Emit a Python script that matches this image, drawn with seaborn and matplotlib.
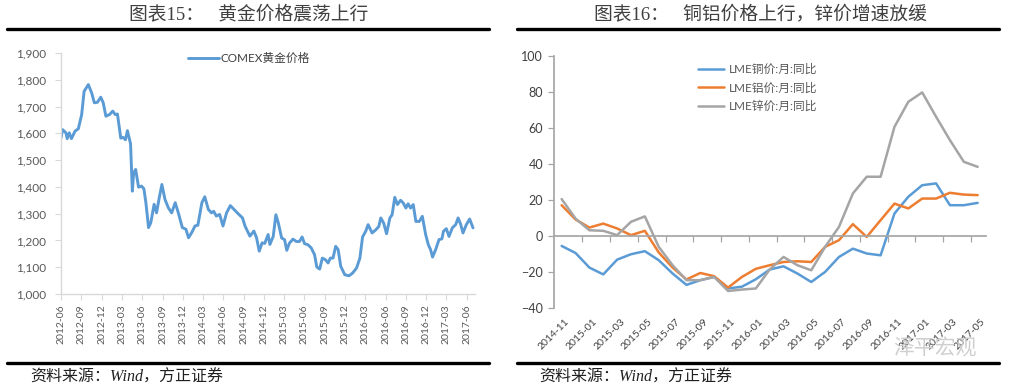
import numpy as np
import pandas as pd
import matplotlib
matplotlib.use('Agg')
import matplotlib.pyplot as plt
import matplotlib.dates as mdates
from matplotlib.lines import Line2D
from matplotlib.ticker import FuncFormatter
import seaborn as sns

sns.set_theme(style='white')
plt.rcParams['font.family'] = ['Lato', 'Noto Sans CJK SC', 'DejaVu Sans']

# ---------------- data: COMEX gold ----------------
gold_dates = [
    '2012-06-01', '2012-06-08', '2012-06-23', '2012-06-29', '2012-07-08', '2012-07-18', '2012-08-03',
    '2012-08-18', '2012-09-02', '2012-09-13', '2012-10-02', '2012-10-17', '2012-10-29', '2012-11-12',
    '2012-11-27', '2012-12-08', '2012-12-20', '2013-01-05', '2013-01-20', '2013-01-31', '2013-02-10',
    '2013-02-25', '2013-03-07', '2013-03-18', '2013-03-27', '2013-04-10', '2013-04-18', '2013-04-24',
    '2013-05-03', '2013-05-16', '2013-05-29', '2013-06-09', '2013-06-18', '2013-06-30', '2013-07-10',
    '2013-07-25', '2013-08-05', '2013-08-17', '2013-08-29', '2013-09-12', '2013-09-27', '2013-10-12',
    '2013-10-28', '2013-11-11', '2013-11-29', '2013-12-15', '2013-12-27', '2014-01-10', '2014-01-25',
    '2014-02-07', '2014-02-25', '2014-03-10', '2014-03-26', '2014-04-09', '2014-04-19', '2014-05-01',
    '2014-05-16', '2014-05-31', '2014-06-16', '2014-07-03', '2014-07-23', '2014-08-07', '2014-08-27',
    '2014-09-07', '2014-09-29', '2014-10-17', '2014-10-29', '2014-11-10', '2014-11-23', '2014-12-05',
    '2014-12-20', '2014-12-28', '2015-01-12', '2015-01-24', '2015-02-04', '2015-02-19', '2015-03-04',
    '2015-03-14', '2015-03-26', '2015-04-11', '2015-04-26', '2015-05-10', '2015-05-22', '2015-06-02',
    '2015-06-17', '2015-07-02', '2015-07-17', '2015-07-27', '2015-08-09', '2015-08-21', '2015-09-04',
    '2015-09-16', '2015-09-26', '2015-10-08', '2015-10-20', '2015-10-31', '2015-11-12', '2015-11-30',
    '2015-12-19', '2016-01-04', '2016-01-22', '2016-02-06', '2016-02-18', '2016-03-03', '2016-03-14',
    '2016-04-01', '2016-04-18', '2016-05-01', '2016-05-10', '2016-05-23', '2016-06-05', '2016-06-20',
    '2016-06-30', '2016-07-12', '2016-07-24', '2016-08-07', '2016-08-19', '2016-08-31', '2016-09-10',
    '2016-09-21', '2016-10-03', '2016-10-15', '2016-10-30', '2016-11-13', '2016-11-28', '2016-12-10',
    '2016-12-20', '2016-12-29', '2017-01-12', '2017-01-27', '2017-02-09', '2017-02-16', '2017-03-01',
    '2017-03-13', '2017-03-28', '2017-04-12', '2017-04-23', '2017-05-05', '2017-05-15', '2017-05-30',
    '2017-06-14', '2017-06-29']
gold_price = [
    1582, 1614, 1602, 1580, 1602, 1580, 1608,
    1617, 1670, 1757, 1782, 1751, 1714, 1716,
    1735, 1714, 1664, 1670, 1683, 1670, 1672,
    1582, 1585, 1576, 1610, 1561, 1384, 1452,
    1465, 1399, 1403, 1393, 1341, 1248, 1266,
    1335, 1303, 1359, 1409, 1353, 1322, 1303,
    1341, 1303, 1248, 1242, 1210, 1229, 1254,
    1257, 1341, 1363, 1316, 1303, 1309, 1291,
    1297, 1254, 1303, 1330, 1313, 1300, 1284,
    1254, 1216, 1235, 1210, 1160, 1191, 1189,
    1222, 1185, 1215, 1296, 1265, 1209, 1203,
    1163, 1190, 1205, 1196, 1196, 1213, 1188,
    1184, 1172, 1147, 1101, 1093, 1134, 1128,
    1116, 1134, 1134, 1178, 1166, 1103, 1072,
    1068, 1078, 1097, 1134, 1213, 1234, 1259,
    1228, 1240, 1252, 1284, 1265, 1225, 1284,
    1296, 1361, 1334, 1350, 1340, 1321, 1337,
    1321, 1334, 1271, 1271, 1290, 1222, 1184,
    1166, 1138, 1166, 1203, 1206, 1234, 1244,
    1215, 1247, 1259, 1284, 1259, 1228, 1259,
    1280, 1247]
gold_name = 'COMEX黄金价格'

# ---------------- data: LME metals YoY ----------------
months = ['2014-11', '2014-12', '2015-01', '2015-02', '2015-03', '2015-04', '2015-05', '2015-06',
          '2015-07', '2015-08', '2015-09', '2015-10', '2015-11', '2015-12', '2016-01', '2016-02',
          '2016-03', '2016-04', '2016-05', '2016-06', '2016-07', '2016-08', '2016-09', '2016-10',
          '2016-11', '2016-12', '2017-01', '2017-02', '2017-03', '2017-04', '2017-05']
copper_yoy = [-5.4, -9.3, -17.4, -21.2, -13.0, -10.0, -8.3, -13.3, -20.7, -27.0, -24.4, -22.6,
              -29.0, -28.0, -23.9, -18.5, -16.7, -20.7, -25.4, -19.8, -11.5, -6.9, -9.6, -10.6,
              12.6, 21.9, 28.3, 29.3, 17.2, 17.2, 18.5]
alu_yoy = [17.2, 9.3, 4.8, 7.0, 4.3, 0.6, 3.0, -9.0, -17.4, -24.0, -20.4, -22.2,
           -28.5, -22.6, -18.1, -16.1, -14.3, -13.9, -14.3, -5.9, -2.2, 6.7, -0.4, 8.9,
           18.1, 15.4, 20.9, 20.9, 24.1, 23.1, 22.8]
zinc_yoy = [20.6, 9.8, 3.3, 3.0, 0.6, 8.0, 11.0, -5.9, -16.1, -24.4, -24.4, -22.6,
            -30.4, -29.6, -29.0, -18.5, -11.5, -16.1, -18.9, -5.9, 5.2, 23.7, 33.0, 33.0,
            60.7, 74.6, 79.8, 66.3, 53.3, 41.3, 38.5]
metal_names = ['LME铜价:月:同比', 'LME铝价:月:同比', 'LME锌价:月:同比']

BLUE, ORANGE, GRAY = '#5B9BD5', '#ED7D31', '#A5A5A5'
TXT = '#595959'
W, H = 1014, 390

fig = plt.figure(figsize=(W / 100, H / 100), dpi=100)
fig.patch.set_facecolor('white')

# ---------------- left chart ----------------
ax1 = fig.add_axes([61 / W, 1 - 294 / H, 414 / W, 241 / H])
gold_df = pd.DataFrame({'date': pd.to_datetime(gold_dates), 'price': gold_price,
                        'series': gold_name})
sns.lineplot(data=gold_df, x='date', y='price', hue='series', palette=[BLUE],
             linewidth=2.1, ax=ax1)
ax1.set_xlim(pd.Timestamp('2012-06-01'), pd.Timestamp('2017-07-08'))
ax1.set_ylim(1000, 1900)
ax1.set_yticks(range(1000, 1901, 100))
ax1.yaxis.set_major_formatter(FuncFormatter(lambda v, p: f'{v:,.0f}'))
ax1.xaxis.set_major_locator(mdates.MonthLocator(bymonth=[3, 6, 9, 12]))
ax1.xaxis.set_major_formatter(mdates.DateFormatter('%Y-%m'))
ax1.set_xlabel('')
ax1.set_ylabel('')
for s in ['top', 'right']:
    ax1.spines[s].set_visible(False)
for s in ['left', 'bottom']:
    ax1.spines[s].set_color('#D9D9D9')
    ax1.spines[s].set_linewidth(1.0)
ax1.tick_params(axis='both', direction='out', length=4, width=0.8, color='#D9D9D9',
                labelcolor=TXT, left=True, bottom=True)
ax1.tick_params(axis='y', pad=7, labelsize=8.5)
ax1.tick_params(axis='x', labelsize=7.5)
plt.setp(ax1.get_xticklabels(), rotation=90)
leg1 = ax1.legend(loc='upper left', bbox_to_anchor=((188 - 61) / 414, 1.0), frameon=False,
                  fontsize=8.5, handlelength=2.6, handletextpad=0.15, borderpad=0,
                  borderaxespad=0, title=None)
for t in leg1.get_texts():
    t.set_color('#404040')

# ---------------- right chart ----------------
ax2 = fig.add_axes([554.3 / W, 1 - 308.3 / H, 431.7 / W, 252.3 / H])
idx = np.arange(len(months))
metal_df = pd.DataFrame({'idx': np.concatenate([idx, idx, idx]),
                         'value': copper_yoy + alu_yoy + zinc_yoy,
                         'series': np.repeat(metal_names, len(months))})
sns.lineplot(data=metal_df, x='idx', y='value', hue='series', hue_order=metal_names,
             palette=[BLUE, ORANGE, GRAY], linewidth=1.8, ax=ax2)
ax2.set_xlim(-0.53, 30.6)
ax2.set_ylim(-40, 100)
ax2.set_yticks(range(-40, 101, 20))
ax2.set_xlabel('')
ax2.set_ylabel('')
for s in ['top', 'right']:
    ax2.spines[s].set_visible(False)
ax2.spines['left'].set_color('#A6A6A6')
ax2.spines['bottom'].set_color('#A6A6A6')
ax2.spines['bottom'].set_position(('data', 0))
ax2.set_xticks(np.arange(1.5, 30, 2))
ax2.set_xticklabels([])
ax2.tick_params(axis='x', direction='out', length=4, width=0.9, color='#A6A6A6', bottom=True)
ax2.tick_params(axis='y', direction='out', length=4, width=0.9, color='#A6A6A6',
                labelcolor='#404040', labelsize=9, left=True, pad=4)
trans = ax2.get_xaxis_transform()
for i in range(0, len(months), 2):
    ax2.annotate(months[i], xy=(i, 0), xycoords=trans, xytext=(3, -9),
                 textcoords='offset pixels', ha='right', va='top', rotation=45,
                 rotation_mode='anchor', fontsize=7.5, color='#404040')
leg2 = ax2.legend(loc='upper left', bbox_to_anchor=((698 - 554.3) / 431.7, 0.97), frameon=False,
                  fontsize=8.5, handlelength=2.2, handletextpad=0.4, labelspacing=0.62,
                  borderpad=0, borderaxespad=0, title=None)
for t in leg2.get_texts():
    t.set_color(TXT)

# ---------------- titles, rules, sources ----------------
title_font = ['Liberation Serif', 'Noto Sans CJK SC']
fig.text(249 / W, 1 - 14 / H, '图表15：   黄金价格震荡上行', ha='center', va='center',
         fontsize=13.5, color='#404040', family=title_font)
fig.text(760 / W, 1 - 14 / H, '图表16：   铜铝价格上行，锌价增速放缓', ha='center', va='center',
         fontsize=13.5, color='#404040', family=title_font)
for x0, x1 in [(7, 489), (517, 999)]:
    for yy in (28.8, 363.3):
        fig.add_artist(Line2D([x0 / W, x1 / W], [1 - yy / H, 1 - yy / H], color='black', lw=2.4))
src_font = ['Liberation Serif', 'Noto Sans CJK SC']
fig.text(30 / W, 1 - 378 / H, '资料来源：Wind，方正证券', ha='left', va='center', fontsize=11.5,
         style='italic', color='#202020', family=src_font)
fig.text(539 / W, 1 - 378 / H, '资料来源：Wind，方正证券', ha='left', va='center', fontsize=11.5,
         style='italic', color='#202020', family=src_font)
fig.text(935 / W, 1 - 349 / H, '泽平宏观', ha='center', va='center', fontsize=15,
         color='#CFCFCF', family=['Noto Sans CJK SC'])

fig.savefig('out.png', dpi=100, facecolor='white')
